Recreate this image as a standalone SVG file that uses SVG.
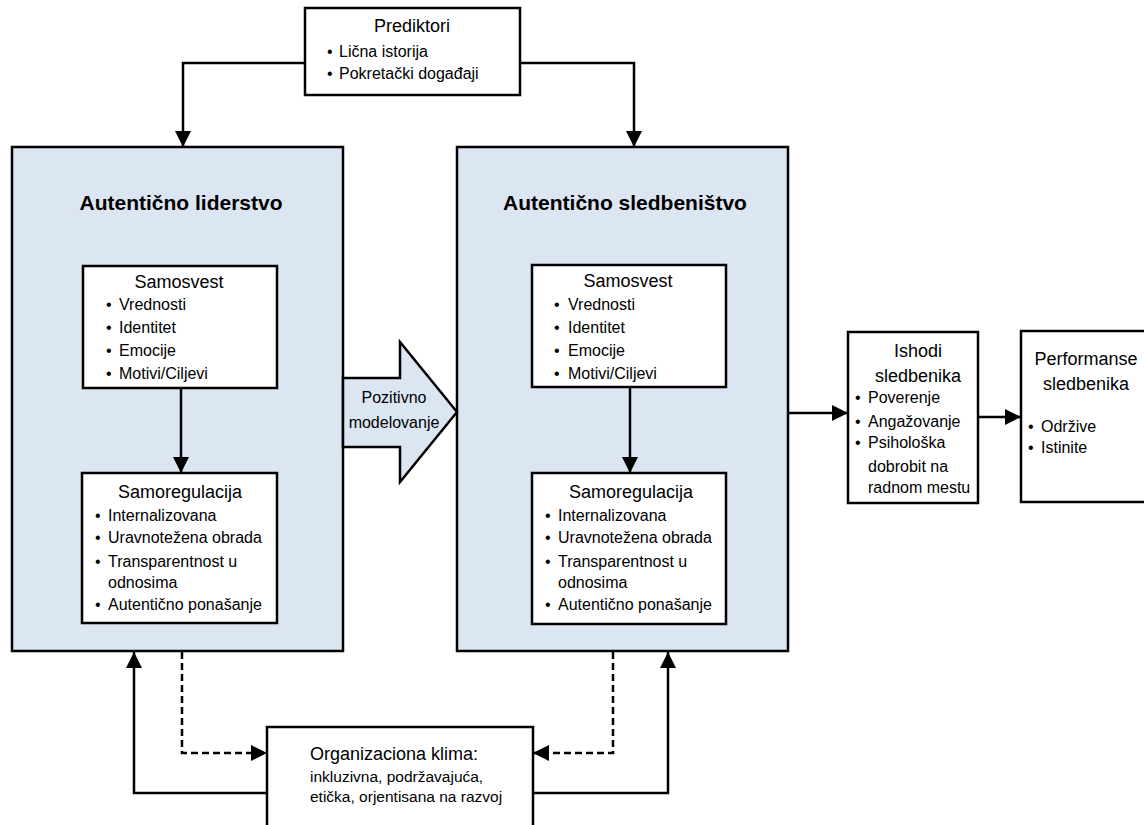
<svg xmlns="http://www.w3.org/2000/svg" width="1144" height="825" viewBox="0 0 1144 825">
  <style>
    text { font-family: "Liberation Sans", Arial, sans-serif; fill: #000; }
    .box { fill: #fff; stroke: #000; stroke-width: 2.5; }
    .panel { fill: #dce6f2; stroke: #000; stroke-width: 2.5; }
    .ttl { font-size: 18px; text-anchor: middle; }
    .big { font-size: 21px; font-weight: bold; text-anchor: middle; }
    .li { font-size: 16px; }
    .mid { text-anchor: middle; }
    .head { font-size: 18px; }
    .org { font-size: 15.5px; }
    .conn { fill: none; stroke: #000; stroke-width: 2.5; }
    .dash { stroke-dasharray: 7 4; }
  </style>
  <defs>
    <marker id="arrow" markerUnits="userSpaceOnUse" markerWidth="18" markerHeight="18" refX="16" refY="8" orient="auto">
      <path d="M0,0 L16,8 L0,16 z" fill="#000"/>
    </marker>
  </defs>

  <!-- Predictors -->
  <g id="prediktori">
    <rect class="box" x="305" y="8" width="215" height="87"/>
    <text class="ttl" x="412" y="32">Prediktori</text>
    <text class="li" y="57"><tspan x="327">•</tspan><tspan x="339">Lična istorija</tspan></text>
    <text class="li" y="79"><tspan x="327">•</tspan><tspan x="339">Pokretački događaji</tspan></text>
  </g>

  <!-- Authentic leadership panel -->
  <g id="liderstvo">
    <rect class="panel" x="12" y="147" width="331" height="504"/>
    <text class="big" x="181" y="210">Autentično liderstvo</text>
  </g>
  <g id="samosvest-lider">
    <rect class="box" x="83" y="266" width="194" height="122"/>
    <text class="ttl" x="179" y="288">Samosvest</text>
    <text class="li" y="310"><tspan x="106">•</tspan><tspan x="119">Vrednosti</tspan></text>
    <text class="li" y="333"><tspan x="106">•</tspan><tspan x="119">Identitet</tspan></text>
    <text class="li" y="356"><tspan x="106">•</tspan><tspan x="119">Emocije</tspan></text>
    <text class="li" y="379"><tspan x="106">•</tspan><tspan x="119">Motivi/Ciljevi</tspan></text>
  </g>
  <g id="samoregulacija-lider">
    <rect class="box" x="82" y="473" width="195" height="150"/>
    <text class="ttl" x="180" y="498">Samoregulacija</text>
    <text class="li" y="521"><tspan x="95">•</tspan><tspan x="108">Internalizovana</tspan></text>
    <text class="li" y="543"><tspan x="95">•</tspan><tspan x="108">Uravnotežena obrada</tspan></text>
    <text class="li" y="567"><tspan x="95">•</tspan><tspan x="108">Transparentnost u</tspan></text>
    <text class="li" x="108" y="588">odnosima</text>
    <text class="li" y="610"><tspan x="95">•</tspan><tspan x="108">Autentično ponašanje</tspan></text>
  </g>

  <!-- Authentic followership panel -->
  <g id="sledbenistvo">
    <rect class="panel" x="457" y="147" width="331" height="504"/>
    <text class="big" x="625" y="210">Autentično sledbeništvo</text>
  </g>
  <g id="samosvest-sledbenik">
    <rect class="box" x="532" y="265" width="194" height="122"/>
    <text class="ttl" x="628" y="287">Samosvest</text>
    <text class="li" y="310"><tspan x="554">•</tspan><tspan x="568">Vrednosti</tspan></text>
    <text class="li" y="333"><tspan x="554">•</tspan><tspan x="568">Identitet</tspan></text>
    <text class="li" y="356"><tspan x="554">•</tspan><tspan x="568">Emocije</tspan></text>
    <text class="li" y="379"><tspan x="554">•</tspan><tspan x="568">Motivi/Ciljevi</tspan></text>
  </g>
  <g id="samoregulacija-sledbenik">
    <rect class="box" x="532" y="473" width="194" height="151"/>
    <text class="ttl" x="631" y="498">Samoregulacija</text>
    <text class="li" y="521"><tspan x="545">•</tspan><tspan x="558">Internalizovana</tspan></text>
    <text class="li" y="543"><tspan x="545">•</tspan><tspan x="558">Uravnotežena obrada</tspan></text>
    <text class="li" y="567"><tspan x="545">•</tspan><tspan x="558">Transparentnost u</tspan></text>
    <text class="li" x="558" y="588">odnosima</text>
    <text class="li" y="610"><tspan x="545">•</tspan><tspan x="558">Autentično ponašanje</tspan></text>
  </g>

  <!-- Block arrow between the panels -->
  <g id="pozitivno-modelovanje">
    <polygon class="panel" points="343,378 400,378 400,342 457,412 400,482 400,447 343,447"/>
    <text class="li mid" x="394" y="403">Pozitivno</text>
    <text class="li mid" x="394" y="428">modelovanje</text>
  </g>

  <!-- Follower outcomes -->
  <g id="ishodi">
    <rect class="box" x="848" y="332" width="130" height="171"/>
    <text class="ttl" x="918" y="357">Ishodi</text>
    <text class="ttl" x="918" y="382">sledbenika</text>
    <text class="li" y="403"><tspan x="855">•</tspan><tspan x="868">Poverenje</tspan></text>
    <text class="li" y="427"><tspan x="855">•</tspan><tspan x="868">Angažovanje</tspan></text>
    <text class="li" y="448"><tspan x="855">•</tspan><tspan x="868">Psihološka</tspan></text>
    <text class="li" x="868" y="472">dobrobit na</text>
    <text class="li" x="868" y="493">radnom mestu</text>
  </g>

  <!-- Follower performance -->
  <g id="performanse">
    <rect class="box" x="1021" y="331" width="140" height="171"/>
    <text class="ttl" x="1086" y="365">Performanse</text>
    <text class="ttl" x="1086" y="390">sledbenika</text>
    <text class="li" y="432"><tspan x="1028">•</tspan><tspan x="1041">Održive</tspan></text>
    <text class="li" y="453"><tspan x="1028">•</tspan><tspan x="1041">Istinite</tspan></text>
  </g>

  <!-- Organizational climate -->
  <g id="organizaciona-klima">
    <rect class="box" x="267" y="727" width="266" height="120"/>
    <text class="head" x="310" y="760">Organizaciona klima:</text>
    <text class="org" x="310" y="782">inkluzivna, podržavajuća,</text>
    <text class="org" x="310" y="802">etička, orjentisana na razvoj</text>
  </g>

  <!-- Connectors -->
  <g id="connectors">
    <polyline class="conn" points="305,63 183,63 183,147" marker-end="url(#arrow)"/>
    <polyline class="conn" points="520,63 634,63 634,147" marker-end="url(#arrow)"/>
    <line class="conn" x1="181" y1="388" x2="181" y2="473" marker-end="url(#arrow)"/>
    <line class="conn" x1="630" y1="387" x2="630" y2="473" marker-end="url(#arrow)"/>
    <line class="conn" x1="788" y1="413" x2="848" y2="413" marker-end="url(#arrow)"/>
    <line class="conn" x1="978" y1="417" x2="1021" y2="417" marker-end="url(#arrow)"/>
    <polyline class="conn dash" points="182,652 182,753 267,753" marker-end="url(#arrow)"/>
    <polyline class="conn" points="267,793 134,793 134,652" marker-end="url(#arrow)"/>
    <polyline class="conn dash" points="613,652 613,753 533,753" marker-end="url(#arrow)"/>
    <polyline class="conn" points="533,793 668,793 668,652" marker-end="url(#arrow)"/>
  </g>
</svg>
